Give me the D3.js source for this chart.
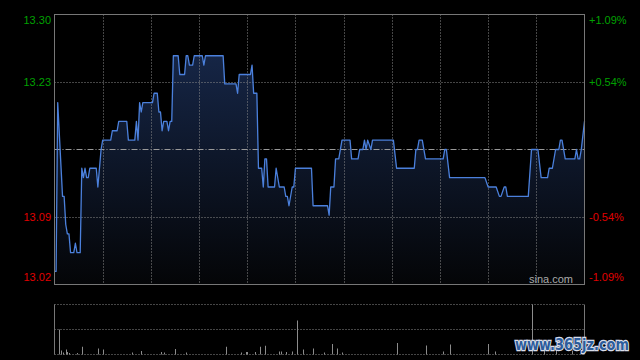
<!DOCTYPE html>
<html>
<head>
<meta charset="utf-8">
<script src="https://cdn.jsdelivr.net/npm/d3@7"></script>
<style>
  html, body { margin: 0; padding: 0; background: #000; }
  svg { display: block; }
</style>
</head>
<body>
<div id="chart"></div>
<script>
// minute index (0..330, HK session) and price at the turning points of the line
var minutes = [0, 1, 2, 5, 6, 7, 8, 9, 10, 12, 13, 14, 16, 17, 18, 19, 20, 21, 22, 26, 27, 29, 30, 35, 36, 39, 40, 45, 46, 50,
  51, 52, 53, 54, 55, 61, 62, 64, 65, 66, 67, 68, 70, 71, 72, 73, 74, 77, 78, 81, 82, 83, 84, 86, 87, 92, 93, 94, 105, 106,
  113, 114, 115, 122, 123, 124, 126, 127, 129, 130, 131, 132, 133, 137, 138, 140, 143, 144, 145, 146, 148, 149, 150, 160, 161,
  170, 171, 172, 174, 175, 177, 179, 184, 185, 189, 190, 192, 193, 194, 195, 197, 198, 211, 213, 224, 225, 226, 227, 229, 231,
  242, 243, 244, 246, 268, 270, 275, 277, 278, 280, 281, 282, 295, 297, 301, 303, 307, 308, 310, 312, 314, 315, 316, 318, 324,
  325, 326, 327, 328, 330];
var prices = [13.03, 13.03, 13.21, 13.11, 13.11, 13.08, 13.07, 13.07, 13.05, 13.05, 13.06, 13.05, 13.05, 13.14, 13.13, 13.14, 13.13, 13.13, 13.14, 13.14, 13.12, 13.16, 13.17, 13.17, 13.18, 13.18, 13.19, 13.19, 13.17, 13.17,
  13.19, 13.17, 13.21, 13.20, 13.21, 13.21, 13.22, 13.22, 13.20, 13.20, 13.18, 13.19, 13.19, 13.18, 13.19, 13.19, 13.26, 13.26, 13.24, 13.24, 13.26, 13.26, 13.25, 13.25, 13.26, 13.26, 13.25, 13.26, 13.26, 13.23,
  13.23, 13.22, 13.24, 13.24, 13.25, 13.22, 13.22, 13.14, 13.14, 13.12, 13.15, 13.15, 13.12, 13.12, 13.14, 13.12, 13.12, 13.11, 13.11, 13.10, 13.12, 13.12, 13.14, 13.14, 13.10,
  13.10, 13.09, 13.12, 13.12, 13.15, 13.15, 13.17, 13.17, 13.15, 13.15, 13.16, 13.16, 13.17, 13.16, 13.17, 13.16, 13.17, 13.17, 13.14, 13.14, 13.16, 13.16, 13.17, 13.17, 13.15,
  13.15, 13.16, 13.16, 13.13, 13.13, 13.12, 13.12, 13.11, 13.11, 13.12, 13.12, 13.11, 13.11, 13.16, 13.16, 13.13, 13.13, 13.14, 13.14, 13.16, 13.16, 13.17, 13.17, 13.15, 13.15,
  13.16, 13.15, 13.15, 13.16, 13.19];

// volume bars (thousand shares)
var volMinutes = [3, 4, 5, 7, 8, 9, 14, 17, 27, 30, 48, 54, 66, 68, 75, 82, 107, 116, 119, 120, 125, 128, 131, 140, 141, 144, 148, 151, 155, 161,
  168, 173, 176, 179, 213, 231, 242, 246, 270, 274, 297, 305, 312, 322, 329];
var volumes = [100, 16, 8, 20, 10, 6, 6, 31, 24, 20, 8, 14, 10, 8, 22, 8, 31, 8, 10, 10, 10, 31, 35, 12, 12, 10, 12, 136, 20, 24,
  8, 42, 24, 8, 46, 36, 12, 40, 42, 12, 200, 20, 30, 16, 40];

var preClose = 13.16;
var priceTicks = [13.304, 13.232, 13.088, 13.016];
var priceLabels = ["13.30", "13.23", "13.09", "13.02"];
var pctLabels = ["+1.09%", "+0.54%", "-0.54%", "-1.09%"];
var timeGrid = [30, 60, 90, 120, 150, 180, 210, 240, 270, 300];

var width = 640, height = 360;
var plotLeft = 54.5, plotRight = 584.5, plotTop = 14.5, plotBottom = 284.5;
var volTop = 304.5, volBottom = 354.5;

var svg = d3.select("#chart").append("svg")
  .attr("width", width).attr("height", height)
  .style("background", "#000");

var x = d3.scaleLinear().domain([0, 330]).range([plotLeft, plotRight]);
var y = d3.scaleLinear().domain([13.016, 13.304]).range([plotBottom, plotTop]);
var vy = d3.scaleLinear().domain([0, 200]).range([volBottom, volTop]);

var snap = function(v) { return Math.round(v) + 0.5; };

var defs = svg.append("defs");
var grad = defs.append("linearGradient").attr("id", "fillGrad")
  .attr("gradientUnits", "userSpaceOnUse")
  .attr("x1", 0).attr("x2", 0).attr("y1", 50).attr("y2", plotBottom);
grad.append("stop").attr("offset", "0%").attr("stop-color", "#162647");
grad.append("stop").attr("offset", "100%").attr("stop-color", "#040507");

var pts = minutes.map(function(m, i) { return [m, prices[i]]; });

// area under the price line
svg.append("path")
  .datum(pts)
  .attr("fill", "url(#fillGrad)")
  .attr("d", d3.area()
    .x(function(d) { return x(d[0]); })
    .y0(plotBottom)
    .y1(function(d) { return y(d[1]); }));

// grid
var grid = svg.append("g").attr("stroke", "#8a8a8a").attr("stroke-width", 1).attr("stroke-dasharray", "1,2");
grid.selectAll("line.v").data(timeGrid).enter().append("line")
  .attr("x1", function(d) { return snap(x(d)); })
  .attr("x2", function(d) { return snap(x(d)); })
  .attr("y1", plotTop).attr("y2", plotBottom);
grid.selectAll("line.h").data([priceTicks[1], priceTicks[2]]).enter().append("line")
  .attr("x1", plotLeft).attr("x2", plotRight)
  .attr("y1", function(d) { return snap(y(d) - 0.5); })
  .attr("y2", function(d) { return snap(y(d) - 0.5); });

// pre close line
svg.append("line")
  .attr("x1", plotLeft).attr("x2", plotRight)
  .attr("y1", snap(y(preClose) - 0.5)).attr("y2", snap(y(preClose) - 0.5))
  .attr("stroke", "#9a9a9a").attr("stroke-dasharray", "6,2,1,2");

// price line
svg.append("path")
  .datum(pts)
  .attr("fill", "none")
  .attr("stroke", "#4b80dc")
  .attr("stroke-width", 1.3)
  .attr("stroke-linejoin", "round")
  .attr("d", d3.line()
    .x(function(d) { return x(d[0]); })
    .y(function(d) { return y(d[1]); }));

// frame
svg.append("rect")
  .attr("x", plotLeft).attr("y", plotTop)
  .attr("width", plotRight - plotLeft).attr("height", plotBottom - plotTop)
  .attr("fill", "none").attr("stroke", "#777");

// axis labels
var fontFam = "Liberation Sans, Arial, sans-serif";
var labelY = function(d, i) { return i < 2 ? y(d) + (i == 0 ? 5.5 : 0) : y(d) - (i == 3 ? 7 : 0); };
svg.selectAll("text.pl").data(priceTicks).enter().append("text")
  .attr("x", 51)
  .attr("y", labelY)
  .attr("dy", "0.35em")
  .attr("text-anchor", "end")
  .attr("font-family", fontFam).attr("font-size", 11)
  .attr("fill", function(d) { return d > preClose ? "#00a000" : "#e00000"; })
  .text(function(d, i) { return priceLabels[i]; });
svg.selectAll("text.pc").data(priceTicks).enter().append("text")
  .attr("x", 589)
  .attr("y", labelY)
  .attr("dy", "0.35em")
  .attr("font-family", fontFam).attr("font-size", 11)
  .attr("fill", function(d) { return d > preClose ? "#00a000" : "#e00000"; })
  .text(function(d, i) { return pctLabels[i]; });

svg.append("text")
  .attr("x", 573).attr("y", 283)
  .attr("text-anchor", "end")
  .attr("font-family", fontFam).attr("font-size", 11)
  .attr("fill", "#aaa")
  .text("sina.com");

// volume panel
var vg = svg.append("g").attr("stroke", "#8a8a8a").attr("stroke-dasharray", "1,2");
vg.selectAll("line").data([volTop, (volTop + volBottom) / 2, volBottom]).enter().append("line")
  .attr("x1", plotLeft).attr("x2", plotRight)
  .attr("y1", function(d) { return d; }).attr("y2", function(d) { return d; });
svg.append("line").attr("x1", plotLeft).attr("x2", plotLeft).attr("y1", volTop).attr("y2", volBottom).attr("stroke", "#777");
svg.append("line").attr("x1", plotRight).attr("x2", plotRight).attr("y1", volTop).attr("y2", volBottom).attr("stroke", "#777");

svg.selectAll("line.vol").data(volMinutes).enter().append("line")
  .attr("x1", function(d) { return snap(x(d)); })
  .attr("x2", function(d) { return snap(x(d)); })
  .attr("y1", volBottom)
  .attr("y2", function(d, i) { return vy(volumes[i]); })
  .attr("stroke", "#8c8c8c");

// watermark
svg.append("text")
  .attr("x", 515).attr("y", 350)
  .attr("font-family", "DejaVu Sans, sans-serif").attr("font-weight", "bold")
  .attr("font-size", 16)
  .attr("textLength", 114)
  .attr("lengthAdjust", "spacingAndGlyphs")
  .attr("fill", "#2c5c9c")
  .attr("stroke", "#d8dde8").attr("stroke-width", 2.4)
  .attr("paint-order", "stroke")
  .text("www.365jz.com");
</script>
</body>
</html>
